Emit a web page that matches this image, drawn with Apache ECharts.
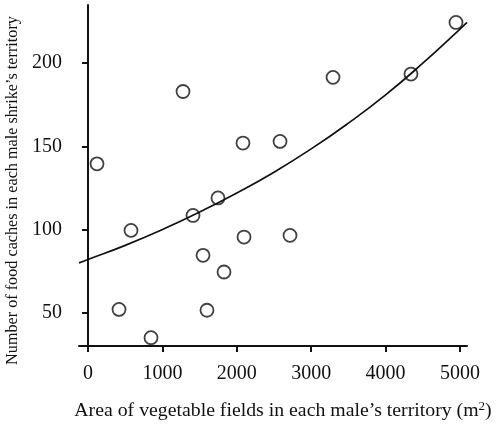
<!DOCTYPE html>
<html>
<head>
<meta charset="utf-8">
<style>html,body{margin:0;padding:0;background:#fff}#c{width:500px;height:425px}</style>
<script src="https://cdn.jsdelivr.net/npm/echarts@6/dist/echarts.min.js"></script>
</head>
<body>
<div id="c"></div>
<script>
// Observed territories: vegetable field area (m²) and number of food caches
const areaValues = [121, 417, 578, 847, 1277, 1411, 1546, 1599, 1747, 1828, 2083, 2097, 2581, 2715, 3293, 4341, 4946];
const cacheValues = [139.5, 52, 99.5, 35, 183, 108.5, 84.5, 51.5, 119, 74.5, 152, 95.5, 153, 96.5, 191.5, 193.5, 224.5];
// Fitted trend curve
const curveX = [-121, 0, 500, 1000, 1500, 2000, 2500, 3000, 3500, 4000, 4500, 5000, 5094];
const curveY = [80, 82, 90.5, 100, 110.5, 122, 134.5, 148.5, 164, 181, 200, 220.5, 224.5];
// Tick labels
const xTicks = [0, 1000, 2000, 3000, 4000, 5000];
const yTicks = [50, 100, 150, 200];

const font = '"Liberation Serif", "Times New Roman", serif';
const ink = '#111';

const chart = echarts.init(document.getElementById('c'), null, {renderer: 'canvas'});
chart.setOption({
  animation: false,
  backgroundColor: '#fff',
  grid: {left: 79, top: 5, right: 33, bottom: 79, containLabel: false, outerBoundsMode: 'none'},
  xAxis: {
    type: 'value',
    min: -121, max: 5094,
    name: 'Area of vegetable fields in each male\u2019s territory (m{sup|2})',
    nameLocation: 'middle',
    nameGap: 54,
    nameTextStyle: {fontFamily: font, fontSize: 19.8, color: ink, padding: [0, 0, 0, 20],
      rich: {sup: {fontFamily: font, fontSize: 13, color: ink, verticalAlign: 'top', padding: [0, 0, 8, 0]}}},
    axisLine: {show: true, lineStyle: {color: ink, width: 2}},
    axisTick: {show: true, length: 6, lineStyle: {color: ink, width: 2}, customValues: xTicks},
    axisLabel: {fontFamily: font, fontSize: 20, color: ink, margin: 18, customValues: xTicks,
      formatter: v => String(v)},
    splitLine: {show: false}
  },
  yAxis: {
    type: 'value',
    min: 30, max: 235,
    name: 'Number of food caches in each male shrike\u2019s territory',
    nameLocation: 'middle',
    nameGap: 57,
    nameTextStyle: {fontFamily: font, fontSize: 16.2, color: ink, padding: [0, 30, 0, 0]},
    axisLine: {show: true, lineStyle: {color: ink, width: 2}},
    axisTick: {show: true, length: 6, lineStyle: {color: ink, width: 2}, customValues: yTicks},
    axisLabel: {fontFamily: font, fontSize: 20, color: ink, margin: 17, customValues: yTicks,
      formatter: v => String(v)},
    splitLine: {show: false}
  },
  series: [
    {
      type: 'scatter',
      data: areaValues.map((x, i) => [x, cacheValues[i]]),
      symbol: 'circle',
      symbolSize: 13,
      itemStyle: {color: 'rgba(255,255,255,0)', borderColor: ink, borderWidth: 1.8},
      z: 2
    },
    {
      type: 'line',
      data: curveX.map((x, i) => [x, curveY[i]]),
      smooth: true,
      showSymbol: false,
      lineStyle: {color: ink, width: 1.7},
      z: 3
    }
  ]
});
</script>
</body>
</html>
